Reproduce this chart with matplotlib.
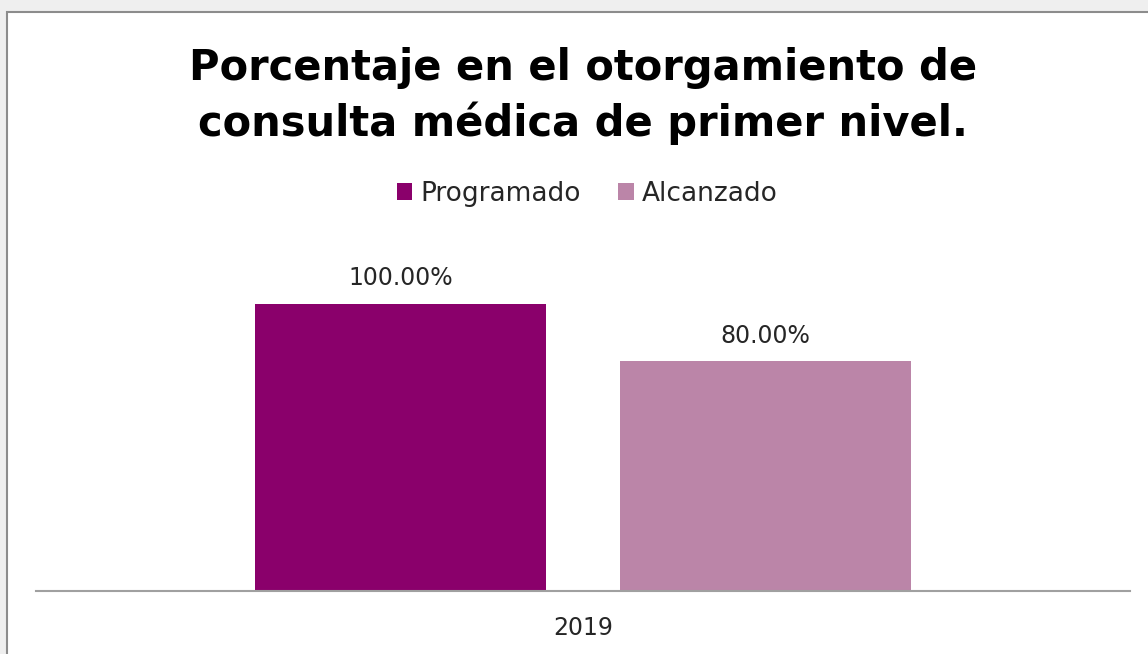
'''
Porcentaje en el otorgamiento de consulta medica de primer nivel.
'''

import matplotlib
matplotlib.use('Agg')
import matplotlib.pyplot as plt
from matplotlib.patches import Rectangle

TITLE = 'Porcentaje en el otorgamiento de\nconsulta médica de primer nivel.'
YEARS = ['2019']
SERIES = ['Programado', 'Alcanzado']
VALUES = [[1.00], [0.80]]
COLORS = ['#8A006B', '#BB85A8']

W, H = 1148, 654


def main() -> None:
    '''
    Draw the bar chart and save it.
    '''
    plt.rcParams['font.family'] = ['DejaVu Sans']
    fig = plt.figure(figsize=(W / 100, H / 100), dpi=100, facecolor='#EFEFEF')

    # chart area frame
    fig.patches.append(Rectangle(
        (7 / W, -0.1), 1.2, 1 - 12 / H + 0.1,
        transform=fig.transFigure, facecolor='white',
        edgecolor='#8C8C8C', linewidth=1.5, zorder=-1,
    ))

    ax = fig.add_axes([36 / W, (H - 591) / H, (1130 - 36) / W, 1.2 * 287 / H])
    ax.patch.set_alpha(0)
    ax.set_zorder(1)

    bar_w = 0.266
    offsets = [-0.1665, 0.1665]
    for idx, name in enumerate(SERIES):
        xs = [i + offsets[idx] for i in range(len(YEARS))]
        bars = ax.bar(xs, VALUES[idx], width=bar_w, color=COLORS[idx], label=name)
        ax.bar_label(bars, labels=[f'{v * 100:.2f}%' for v in VALUES[idx]],
                     padding=10, fontsize=17, color='#262626')

    ax.set_xlim(-0.5, len(YEARS) - 0.5)
    ax.set_ylim(0, 1.2)
    ax.set_xticks(range(len(YEARS)))
    ax.set_xticklabels(YEARS, fontsize=17, color='#262626')
    ax.tick_params(axis='x', length=0, pad=18)
    ax.set_yticks([])
    for side in ['top', 'right', 'left']:
        ax.spines[side].set_visible(False)
    ax.spines['bottom'].set_color('#A0A0A0')
    ax.spines['bottom'].set_linewidth(1.5)

    fig.text(583 / W, 1 - 96 / H, TITLE, ha='center', va='center',
             fontsize=30, fontweight='bold', color='black', linespacing=1.35)

    fig.legend(loc='center', bbox_to_anchor=(587 / W, 1 - 194 / H), ncol=2,
               frameon=False, fontsize=19, handlelength=0.6, handleheight=0.6,
               handletextpad=0.3, columnspacing=1.4, labelcolor='#262626')

    fig.savefig('out.png', dpi=100, facecolor=fig.get_facecolor())


if __name__ == "__main__":
    main()
